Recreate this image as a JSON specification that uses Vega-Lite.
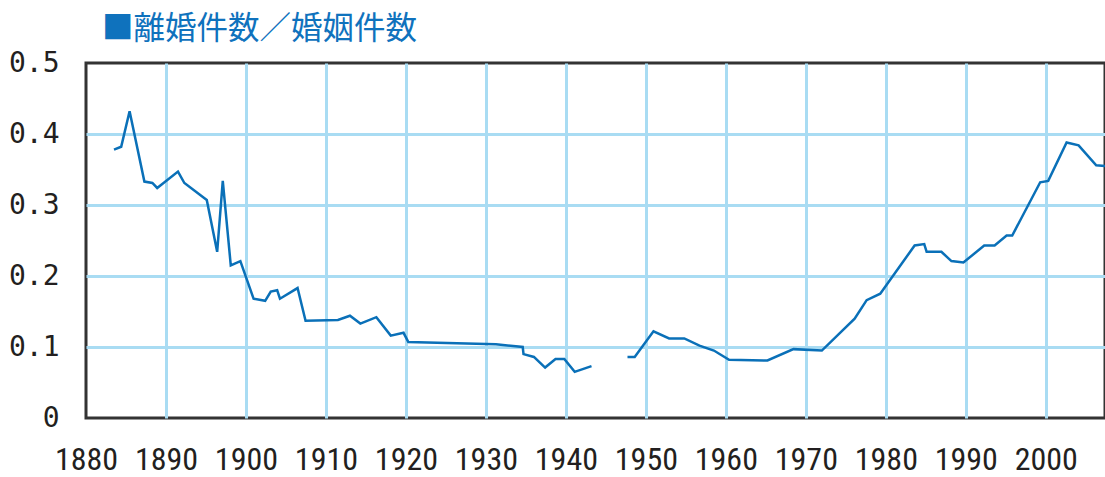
{
  "$schema": "https://vega.github.io/schema/vega-lite/v6.json",
  "width": 1019,
  "height": 355,
  "autosize": {"type": "none"},
  "padding": {"left": 86, "top": 63, "right": 0, "bottom": 59},
  "title": {
    "text": "■離婚件数／婚姻件数",
    "anchor": "start",
    "frame": "group",
    "dx": 16,
    "offset": 4,
    "font": "Noto Sans CJK JP",
    "fontSize": 31.5,
    "fontWeight": "normal",
    "color": "#0f72bd"
  },
  "config": {"view": {"stroke": "#333333", "strokeWidth": 3}},
  "data": {
    "values": [
      {"year": 1883.5, "ratio": 0.378},
      {"year": 1884.4, "ratio": 0.382},
      {"year": 1885.45, "ratio": 0.432},
      {"year": 1887.3, "ratio": 0.333},
      {"year": 1888.3, "ratio": 0.331},
      {"year": 1888.9, "ratio": 0.324},
      {"year": 1891.5, "ratio": 0.347},
      {"year": 1892.3, "ratio": 0.331},
      {"year": 1895.1, "ratio": 0.307},
      {"year": 1896.4, "ratio": 0.234},
      {"year": 1897.1, "ratio": 0.334},
      {"year": 1898.1, "ratio": 0.215},
      {"year": 1899.3, "ratio": 0.221},
      {"year": 1900.95, "ratio": 0.168},
      {"year": 1902.4, "ratio": 0.165},
      {"year": 1903.1, "ratio": 0.178},
      {"year": 1903.9, "ratio": 0.180},
      {"year": 1904.25, "ratio": 0.168},
      {"year": 1906.45, "ratio": 0.183},
      {"year": 1907.45, "ratio": 0.137},
      {"year": 1911.5, "ratio": 0.138},
      {"year": 1913.0, "ratio": 0.144},
      {"year": 1914.3, "ratio": 0.133},
      {"year": 1916.3, "ratio": 0.142},
      {"year": 1918.1, "ratio": 0.116},
      {"year": 1919.7, "ratio": 0.120},
      {"year": 1920.3, "ratio": 0.107},
      {"year": 1931.25, "ratio": 0.104},
      {"year": 1934.6, "ratio": 0.100},
      {"year": 1934.7, "ratio": 0.090},
      {"year": 1936.0, "ratio": 0.086},
      {"year": 1937.4, "ratio": 0.071},
      {"year": 1938.7, "ratio": 0.083},
      {"year": 1939.8, "ratio": 0.083},
      {"year": 1941.1, "ratio": 0.065},
      {"year": 1943.2, "ratio": 0.073},
      {"year": 1945, "ratio": null},
      {"year": 1947.7, "ratio": 0.086},
      {"year": 1948.6, "ratio": 0.086},
      {"year": 1950.95, "ratio": 0.122},
      {"year": 1952.9, "ratio": 0.112},
      {"year": 1954.8, "ratio": 0.112},
      {"year": 1956.7, "ratio": 0.102},
      {"year": 1958.5, "ratio": 0.095},
      {"year": 1960.4, "ratio": 0.082},
      {"year": 1965.2, "ratio": 0.081},
      {"year": 1968.45, "ratio": 0.097},
      {"year": 1972.0, "ratio": 0.095},
      {"year": 1976.1, "ratio": 0.140},
      {"year": 1977.6, "ratio": 0.166},
      {"year": 1979.3, "ratio": 0.175},
      {"year": 1983.6, "ratio": 0.243},
      {"year": 1984.8, "ratio": 0.245},
      {"year": 1985.1, "ratio": 0.234},
      {"year": 1986.95, "ratio": 0.234},
      {"year": 1988.2, "ratio": 0.221},
      {"year": 1989.7, "ratio": 0.219},
      {"year": 1992.3, "ratio": 0.243},
      {"year": 1993.6, "ratio": 0.243},
      {"year": 1995.1, "ratio": 0.257},
      {"year": 1995.8, "ratio": 0.257},
      {"year": 1999.3, "ratio": 0.332},
      {"year": 2000.3, "ratio": 0.334},
      {"year": 2002.6, "ratio": 0.388},
      {"year": 2004.1, "ratio": 0.384},
      {"year": 2006.3, "ratio": 0.356},
      {"year": 2007.4, "ratio": 0.355}
    ]
  },
  "mark": {"type": "line", "color": "#0a70b8", "strokeWidth": 2.5},
  "encoding": {
    "x": {
      "field": "year",
      "type": "quantitative",
      "scale": {"domain": [1880, 2007.4], "nice": false, "zero": false},
      "axis": {
        "title": null,
        "values": [1880, 1890, 1900, 1910, 1920, 1930, 1940, 1950, 1960, 1970, 1980, 1990, 2000],
        "format": "d",
        "labelFont": "Liberation Sans Narrow, Roboto Condensed, DejaVu Sans Condensed, sans-serif",
        "labelFontSize": 32,
        "labelColor": "#231f20",
        "labelPadding": 26,
        "labelFlush": false,
        "labelOverlap": false,
        "ticks": false,
        "domain": false,
        "gridWidth": 3,
        "gridColor": {"condition": {"test": "datum.value === 1880", "value": "transparent"}, "value": "#a9dcf3"}
      }
    },
    "y": {
      "field": "ratio",
      "type": "quantitative",
      "scale": {"domain": [0, 0.5], "nice": false},
      "axis": {
        "title": null,
        "values": [0, 0.1, 0.2, 0.3, 0.4, 0.5],
        "labelExpr": "datum.value === 0 ? '0' : format(datum.value, '.1f')",
        "labelFont": "DejaVu Sans Mono",
        "labelFontSize": 28,
        "labelColor": "#231f20",
        "labelPadding": 27,
        "ticks": false,
        "domain": false,
        "gridWidth": 3,
        "gridColor": {"condition": {"test": "datum.value === 0 || datum.value === 0.5", "value": "transparent"}, "value": "#a9dcf3"}
      }
    }
  }
}
